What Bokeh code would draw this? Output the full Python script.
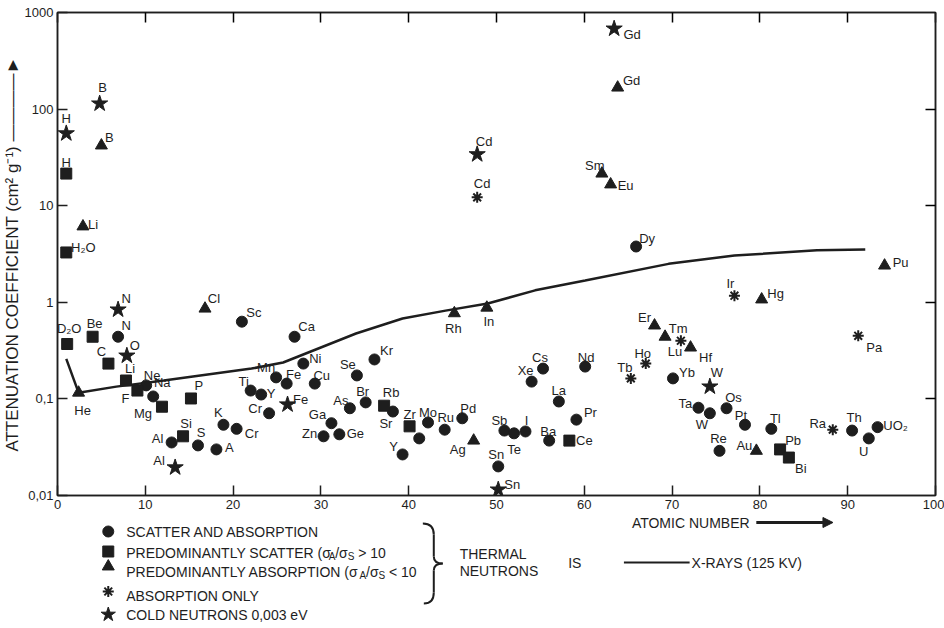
import numpy as np
from bokeh.plotting import figure
from bokeh.models import Range1d, LinearAxis, LogAxis, FixedTicker, Title, Arrow, NormalHead, ColumnDataSource
from bokeh.layouts import column
from bokeh.core.properties import value
from bokeh.embed import file_html
from bokeh.resources import INLINE

FONT = "Liberation Sans"
INK = "#1e1e1e"

# ---------------- data (atomic number, attenuation coefficient cm2/g) ----------------
# scatter and absorption (circles)
circ_names = ["N", "Ne", "Na", "Al", "S", "A", "K", "Cr", "Sc", "Ti", "Y", "Cr", "Mn", "Fe", "Ca",
              "Ni", "Cu", "Zn", "Ga", "Ge", "As", "Se", "Br", "Kr", "Sr", "Y", "", "Mo", "Ru", "Pd",
              "Sn", "Sb", "Te", "I", "Xe", "Cs", "Ba", "La", "Pr", "Nd", "Dy", "Yb", "Ta", "W", "Os",
              "Re", "Pt", "Tl", "Th", "U", "UO₂"]
circ_z = [6.9, 10.1, 10.9, 13.0, 16.0, 18.1, 18.9, 20.4, 21.0, 22.0, 23.2, 24.1, 24.9, 26.1, 27.0,
          28.0, 29.3, 30.3, 31.2, 32.1, 33.3, 34.1, 35.1, 36.1, 38.2, 39.3, 41.2, 42.2, 44.1, 46.1,
          50.2, 50.9, 52.0, 53.3, 54.0, 55.3, 56.0, 57.1, 59.1, 60.1, 65.9, 70.1, 73.0, 74.3, 76.2,
          75.4, 78.3, 81.3, 90.5, 92.4, 93.4]
circ_v = [0.44, 0.138, 0.106, 0.0354, 0.033, 0.030, 0.054, 0.049, 0.63, 0.122, 0.111, 0.071, 0.167, 0.144, 0.44,
          0.232, 0.144, 0.041, 0.056, 0.043, 0.080, 0.175, 0.092, 0.256, 0.074, 0.0266, 0.039, 0.057, 0.048, 0.063,
          0.020, 0.047, 0.044, 0.046, 0.151, 0.206, 0.037, 0.094, 0.061, 0.216, 3.78, 0.163, 0.081, 0.071, 0.080,
          0.029, 0.054, 0.049, 0.047, 0.039, 0.051]

# predominantly scatter (squares)
sq_names = ["H", "H₂O", "D₂O", "Be", "C", "Li", "F", "Mg", "Si", "P", "Rb", "Zr", "Ce", "Pb", "Bi"]
sq_z = [1.0, 1.0, 1.1, 4.0, 5.8, 7.8, 9.1, 11.9, 14.3, 15.2, 37.2, 40.1, 58.3, 82.3, 83.3]
sq_v = [21.5, 3.28, 0.37, 0.44, 0.232, 0.155, 0.122, 0.083, 0.041, 0.101, 0.085, 0.052, 0.037, 0.030, 0.0247]

# predominantly absorption (triangles)
tri_names = ["He", "Li", "B", "Cl", "Rh", "In", "Ag", "Sm", "Eu", "Gd", "Er", "Tm", "Hf", "Hg", "Au", "Pu"]
tri_z = [2.4, 2.9, 5.0, 16.8, 45.2, 48.9, 47.4, 62.0, 63.0, 63.8, 68.0, 69.2, 72.1, 80.2, 79.6, 94.2]
tri_v = [0.116, 6.1, 42, 0.86, 0.77, 0.88, 0.037, 21.5, 16.6, 167, 0.575, 0.44, 0.34, 1.07, 0.029, 2.4]

# absorption only (asterisks)
ast_names = ["Cd", "Tb", "Ho", "Lu", "Ir", "Ra", "Pa"]
ast_z = [47.8, 65.3, 67.0, 71.0, 77.1, 88.3, 91.2]
ast_v = [12.2, 0.163, 0.232, 0.40, 1.17, 0.048, 0.45]

# cold neutrons 0.003 eV (stars)
star_names = ["H", "B", "N", "O", "Al", "Fe", "Cd", "Sn", "W", "Gd"]
star_z = [1.0, 4.8, 6.9, 7.9, 13.4, 26.2, 47.8, 50.2, 74.3, 63.4]
star_v = [56, 114, 0.84, 0.28, 0.0195, 0.0875, 34, 0.0115, 0.134, 680]

# X-rays (125 kV)
xray_z = [1.0, 2.4, 6.7, 12.1, 22.1, 25.7, 34.0, 39.3, 44.2, 49.0, 54.4, 60.1, 69.6, 77.1, 86.5, 92.0]
xray_v = [0.26, 0.116, 0.134, 0.155, 0.206, 0.238, 0.475, 0.68, 0.82, 0.97, 1.33, 1.68, 2.5, 3.05, 3.45, 3.53]

x_ticks = [0, 10, 20, 30, 40, 50, 60, 70, 80, 90, 100]
y_ticks = [0.01, 0.1, 1, 10, 100, 1000]
y_tick_labels = ["0,01", "0,1", "1", "10", "100", "1000"]

# ---------------- label placement (pixels, right / down) ----------------
circ_off = [(8, -11), (6, -10), (9, -14), (-14, -4), (3, -13), (13, -2), (-5, -12), (15, 5), (12, -9), (-7, -9),
            (10, -1), (-14, -5), (-10, -10), (7, -9), (12, -10), (12, -5), (7, -8), (-14, -3), (-14, -9), (16, -1),
            (-9, -8), (-9, -11), (-3, -11), (12, -9), (-7, 12), (-9, -8), (0, 0), (0, -10), (1, -12), (6, -10),
            (-2, -12), (-5, -10), (0, 16), (1, -11), (-6, -11), (-3, -11), (-1, -9), (0, -11), (14, -7), (1, -9),
            (11, -8), (14, -6), (-13, -4), (-8, 11), (7, -11), (-1, -12), (-4, -9), (4, -10), (2, -13), (-5, 13),
            (18, -2)]
sq_off = [(0, -11), (17, -5), (2, -16), (2, -13), (-7, -12), (4, -12), (-12, 8), (-19, 7), (3, -13), (8, -13),
          (7, -13), (0, -12), (15, 0), (13, -9), (12, 11)]
tri_off = [(4, 18), (10, -2), (8, -8), (9, -10), (-1, 15), (2, 14), (-16, 9), (-7, -8), (15, 1), (14, -7),
           (-10, -8), (13, -8), (15, 10), (14, -6), (-12, -5), (16, -3)]
ast_off = [(5, -14), (-6, -11), (-3, -10), (-6, 11), (-4, -12), (-15, -6), (16, 12)]
star_off = [(0, -15), (3, -16), (8, -11), (8, -10), (-16, -7), (13, -5), (7, -13), (14, -5), (7, -14), (18, 6)]

W = 944
BL, BR = 53, 9          # frame left / right borders (px)
H_MAIN = 515
H_LEG = 113

# ---------------- main chart ----------------
p = figure(width=W, height=H_MAIN, x_range=Range1d(0, 100), y_range=Range1d(0.01, 1000),
           y_axis_type="log", output_backend="svg", toolbar_location=None,
           min_border_left=BL, min_border_right=BR, min_border_top=12, min_border_bottom=20)
p.grid.grid_line_color = None
p.background_fill_color = "white"
p.border_fill_color = "white"
p.outline_line_color = INK
p.outline_line_width = 1.5

xa = p.xaxis[0]
ya = p.yaxis[0]
xa.ticker = FixedTicker(ticks=x_ticks)
ya.ticker = FixedTicker(ticks=y_ticks)
ya.major_label_overrides = {t: s for t, s in zip(y_ticks, y_tick_labels)}
for ax in (xa, ya):
    ax.major_tick_in = 10
    ax.major_tick_out = 0
    ax.minor_tick_line_color = None
    ax.axis_line_width = 1.5
    ax.axis_line_color = INK
    ax.major_tick_line_width = 1.5
    ax.major_tick_line_color = INK
    ax.major_label_text_font = FONT
    ax.major_label_text_font_size = "13px"
    ax.major_label_text_color = INK
    ax.major_label_standoff = 4

top = LinearAxis(ticker=FixedTicker(ticks=x_ticks), major_label_overrides={t: "" for t in x_ticks},
                 major_label_standoff=0, major_tick_in=10, major_tick_out=0, minor_tick_line_color=None,
                 axis_line_width=1.5, axis_line_color=INK, major_tick_line_width=1.5)
p.add_layout(top, "above")
right = LogAxis(ticker=FixedTicker(ticks=[0.1, 1, 10, 100]),
                major_label_overrides={t: "" for t in [0.1, 1, 10, 100]},
                major_label_standoff=0, major_tick_in=10, major_tick_out=0, minor_tick_line_color=None,
                axis_line_width=1.5, axis_line_color=INK, major_tick_line_width=1.5)
p.add_layout(right, "right")

# y-axis title (reads upward, ends with an arrow)
p.add_layout(Title(text="ATTENUATION COEFFICIENT (cm² g⁻¹) ————►", align="center", offset=-16, standoff=0,
                   text_font=FONT, text_font_size="17px", text_font_style="normal", text_color=INK), "left")

# X-ray curve
p.line(xray_z, xray_v, line_width=2.5, line_color=INK)

p.scatter(circ_z, circ_v, marker="circle", size=11, fill_color=INK, line_color=INK)
p.scatter(sq_z, sq_v, marker="square", size=11, fill_color=INK, line_color=INK)
p.scatter(tri_z, tri_v, marker="triangle", size=12, fill_color=INK, line_color=INK)
p.scatter(ast_z, ast_v, marker="asterisk", size=11, line_color=INK, line_width=2)
p.scatter(star_z, star_v, marker="star", size=17, fill_color=INK, line_color=INK)


def add_labels(names, zs, vs, offs):
    src = ColumnDataSource(dict(x=zs, y=vs, t=names,
                                dx=[o[0] for o in offs], dy=[o[1] for o in offs]))
    p.text(x="x", y="y", text="t", x_offset="dx", y_offset="dy", source=src,
           text_font=value(FONT), text_font_size="13px", text_color=INK,
           text_align="center", text_baseline="middle")


add_labels(circ_names, circ_z, circ_v, circ_off)
add_labels(sq_names, sq_z, sq_v, sq_off)
add_labels(tri_names, tri_z, tri_v, tri_off)
add_labels(ast_names, ast_z, ast_v, ast_off)
add_labels(star_names, star_z, star_v, star_off)

# ---------------- legend panel (coordinates in page pixels) ----------------
q = figure(width=W, height=H_LEG, x_range=Range1d(BL, W - BR), y_range=Range1d(H_LEG, 0),
           output_backend="svg", toolbar_location=None,
           min_border_left=BL, min_border_right=BR, min_border_top=0, min_border_bottom=0,
           x_axis_location=None, y_axis_location=None)
q.grid.grid_line_color = None
q.outline_line_color = None
q.background_fill_color = "white"
q.border_fill_color = "white"

TXT = dict(text_font=value(FONT), text_font_size="14px", text_color=INK, text_baseline="middle",
           text_align="left")
SUB = dict(text_font=value(FONT), text_font_size="10px", text_color=INK, text_baseline="middle",
           text_align="left")

q.text(x=[630], y=[7], text=["ATOMIC NUMBER"], **TXT)
q.add_layout(Arrow(end=NormalHead(size=10, fill_color=INK, line_color=INK), x_start=755, y_start=7,
                   x_end=832, y_end=7, line_width=3, line_color=INK))

q.scatter([104], [16], marker="circle", size=11, fill_color=INK, line_color=INK)
q.scatter([104], [36], marker="square", size=11, fill_color=INK, line_color=INK)
q.scatter([104], [51], marker="triangle", size=12, fill_color=INK, line_color=INK)
q.scatter([104], [76], marker="asterisk", size=11, line_color=INK, line_width=2)
q.scatter([104], [99], marker="star", size=15, fill_color=INK, line_color=INK)

q.text(x=[122, 122, 122], y=[16, 80, 99],
       text=["SCATTER AND ABSORPTION", "ABSORPTION ONLY", "COLD NEUTRONS 0,003 eV"], **TXT)
q.text(x=[122, 332, 355], y=[37, 37, 37], text=["PREDOMINANTLY SCATTER (σ", "/σ", "> 10"], **TXT)
q.text(x=[325.5, 344.5], y=[41, 41], text=["A", "S"], **SUB)
q.text(x=[122, 363, 386], y=[56, 56, 56], text=["PREDOMINANTLY ABSORPTION (σ", "/σ", "< 10"], **TXT)
q.text(x=[356.5, 375.5], y=[60, 60], text=["A", "S"], **SUB)

# brace
q.quadratic(x0=[420, 431, 440, 431], y0=[8, 41, 48, 77], x1=[431, 440, 431, 421], y1=[19, 48, 55, 88],
            cx=[431, 431, 431, 431], cy=[8, 48, 48, 88], line_width=2, line_color=INK)
q.segment(x0=[431, 431], y0=[19, 55], x1=[431, 431], y1=[41, 77], line_width=2, line_color=INK)
q.text(x=[457, 457], y=[38, 55], text=["THERMAL", "NEUTRONS"], **TXT)

q.text(x=[566], y=[47], text=["IS"], **TXT)
q.segment(x0=[622], y0=[47], x1=[688], y1=[47], line_width=2, line_color=INK)
q.text(x=[690], y=[47], text=["X-RAYS (125 KV)"], **TXT)

layout = column(p, q)
open("out.html", "w").write(file_html(layout, INLINE))
